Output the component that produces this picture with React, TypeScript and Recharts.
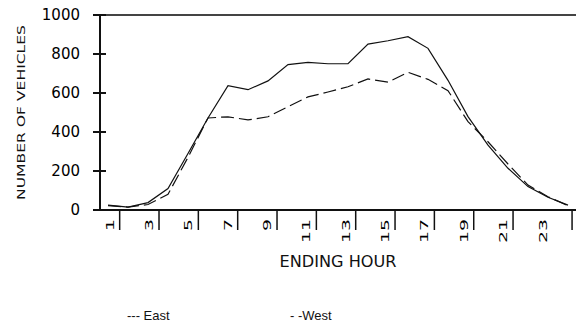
import { LineChart, Line, XAxis, YAxis, ReferenceLine, Legend, Label } from "recharts";

// hourly traffic counts
const hours = [1, 2, 3, 4, 5, 6, 7, 8, 9, 10, 11, 12, 13, 14, 15, 16, 17, 18, 19, 20, 21, 22, 23, 24];
const eastVolumes = [25, 15, 38, 110, 290, 472, 637, 617, 662, 746, 757, 750, 750, 851, 868, 889, 829, 665, 479, 333, 214, 120, 65, 25];
const westVolumes = [22, 15, 28, 80, 270, 472, 478, 462, 478, 530, 580, 605, 632, 672, 656, 706, 670, 612, 453, 350, 236, 128, 68, 22];

const yTicks = [0, 200, 400, 600, 800, 1000];
const hourLabels = [1, 3, 5, 7, 9, 11, 13, 15, 17, 19, 21, 23];
const hourBounds = [0.5, 1.5, 2.5, 3.5, 4.5, 5.5, 6.5, 7.5, 8.5, 9.5, 10.5, 11.5, 12.5, 13.5, 14.5, 15.5, 16.5, 17.5, 18.5, 19.5, 20.5, 21.5, 22.5, 23.5, 24.5];
const legendLabels = ["--- East", "- -West"];

const data = hours.map((hour, i) => ({
  hour,
  east: eastVolumes[i],
  west: westVolumes[i],
}));

const INK = "#111";

// tick line pokes 7px out and 6px into the plot
function YTick(props: any) {
  const x = Number(props.x);
  const y = Number(props.y);
  const axisX = x + 20;
  return (
    <g>
      <line x1={axisX - 7} x2={axisX + 6} y1={y} y2={y} stroke={INK} strokeWidth={2} />
      <text x={x} y={y} dy="0.36em" textAnchor="end" fontFamily="DejaVu Sans" fontSize={15} fill="#000">
        {props.payload.value}
      </text>
    </g>
  );
}

const NoLabel = () => <g />;

function HourTick(props: any) {
  const x = Number(props.x);
  const y = Number(props.y);
  const s = String(props.payload.value);
  return (
    <text
      x={x}
      y={y}
      dy="0.36em"
      transform={`rotate(-90, ${x}, ${y})`}
      textAnchor="end"
      fontFamily="DejaVu Sans"
      fontSize={11}
      fill="#000"
      textLength={s.length * 12}
      lengthAdjust="spacingAndGlyphs"
    >
      {s}
    </text>
  );
}

const renderYTitle = (props: any) => {
  const { x, y, height } = props.viewBox;
  const cx = x + 25;
  const cy = y + height / 2;
  return (
    <text
      x={cx}
      y={cy}
      transform={`rotate(-90, ${cx}, ${cy})`}
      textAnchor="middle"
      fontFamily="DejaVu Sans"
      fontSize={10}
      fill="#111"
      textLength={175}
      lengthAdjust="spacingAndGlyphs"
    >
      NUMBER OF VEHICLES
    </text>
  );
};

const renderXTitle = (props: any) => {
  const { x, y, width } = props.viewBox;
  return (
    <text
      x={x + width / 2}
      y={y + 56}
      textAnchor="middle"
      fontFamily="DejaVu Sans"
      fontSize={15}
      fill="#111"
      textLength={117}
      lengthAdjust="spacingAndGlyphs"
    >
      ENDING HOUR
    </text>
  );
};

const renderLegend = (props: any) => {
  const { payload } = props;
  const lefts = [127, 290];
  return (
    <div style={{ position: "relative", width: 576, height: 28 }}>
      {(payload || []).map((entry: any, i: number) => (
        <span
          key={entry.value}
          style={{
            position: "absolute",
            left: lefts[i],
            top: 12,
            fontFamily: "'Liberation Sans', Arial, sans-serif",
            fontSize: 13,
            color: "#111",
            whiteSpace: "nowrap",
          }}
        >
          {legendLabels[i]}
        </span>
      ))}
    </div>
  );
};

export default function App() {
  return (
    <div style={{ position: "absolute", left: 0, top: 0, background: "#fff" }}>
      <LineChart width={576} height={324} data={data} margin={{ top: 15, right: 0, bottom: 0, left: 0 }}>
        <XAxis
          xAxisId="grid"
          type="number"
          dataKey="hour"
          domain={[0.5, 24.7]}
          allowDataOverflow
          ticks={hourBounds}
          tick={<NoLabel />}
          tickSize={20}
          tickLine={{ stroke: INK, strokeWidth: 1.5 }}
          axisLine={{ stroke: INK, strokeWidth: 2 }}
          height={1}
        />
        <XAxis
          xAxisId="lab"
          type="number"
          dataKey="hour"
          domain={[0.5, 24.7]}
          allowDataOverflow
          ticks={hourLabels}
          tick={<HourTick />}
          tickLine={false}
          axisLine={false}
          height={85}
        >
          <Label content={renderXTitle} />
        </XAxis>
        <XAxis xAxisId="line" type="number" dataKey="hour" domain={[0.6, 24.4]} allowDataOverflow hide />
        <YAxis
          type="number"
          domain={[0, 1000]}
          ticks={yTicks}
          width={100}
          tickSize={7}
          tickMargin={13}
          tickLine={{ stroke: INK, strokeWidth: 2 }}
          axisLine={{ stroke: INK, strokeWidth: 2 }}
          tick={<YTick />}
        >
          <Label content={renderYTitle} />
        </YAxis>
        <ReferenceLine xAxisId="grid" y={1000} stroke="#444" strokeWidth={2} />
        <Line
          xAxisId="line"
          type="linear"
          dataKey="east"
          name="East"
          stroke={INK}
          strokeWidth={1.2}
          dot={false}
          isAnimationActive={false}
        />
        <Line
          xAxisId="line"
          type="linear"
          dataKey="west"
          name="West"
          stroke={INK}
          strokeWidth={1.2}
          strokeDasharray="13 5"
          dot={false}
          isAnimationActive={false}
        />
        <Legend content={renderLegend} verticalAlign="bottom" height={28} wrapperStyle={{ left: 0, width: 576 }} />
      </LineChart>
    </div>
  );
}
